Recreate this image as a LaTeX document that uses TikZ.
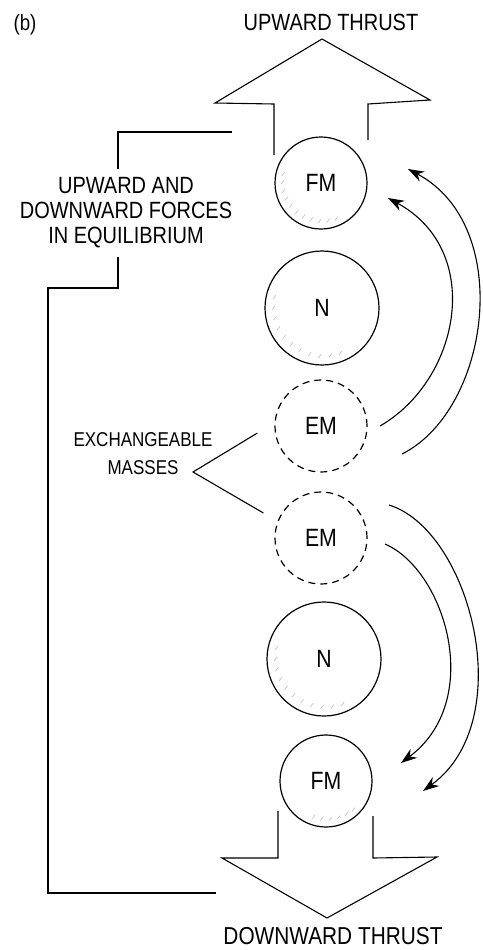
\documentclass[tikz,border=0pt]{standalone}
\usepackage{fontspec}
\setmainfont{Liberation Sans}[FakeStretch=0.85]
\usetikzlibrary{calc,arrows.meta}

\tikzset{
  mass/.style={circle, draw, line width=1.2pt, inner sep=0pt, font=\fontsize{25}{28}\selectfont},
  fixedmass/.style={mass, minimum size=92pt},
  neutralmass/.style={mass, minimum size=114pt},
  exchmass/.style={mass, minimum size=92pt, dash pattern=on 7pt off 5pt},
  flow/.style={line width=1.1pt, -{Stealth[length=16pt, width=11pt, inset=5pt]}},
  stroke/.style={line width=1.1pt},
  hatch/.style={gray!60, line width=0.5pt},
  lbl/.style={align=center, font=\fontsize{23.5}{25}\selectfont},
}

% faint hatching inside a ball
\newcommand\hatchball[3]{%
  \foreach \a in {#2} \draw[hatch] ($(#1)+(\a:#3)$) -- +(3,-4);}

\begin{document}
\begin{tikzpicture}[x=1pt, y=-1pt]
  \useasboundingbox (0,0) rectangle (482,950);

  % tag
  \node[font=\fontsize{22}{24}\selectfont] (tag) at (25,25) {(b)};

  % masses
  \node[fixedmass] (fmA) at (321,183) {FM};
  \node[neutralmass] (nA) at (322,308) {N};
  \node[exchmass] (emA) at (321,426) {EM};
  \node[exchmass] (emB) at (321,538) {EM};
  \node[neutralmass] (nB) at (324,659) {N};
  \node[fixedmass] (fmB) at (326,781) {FM};

  % hatching
  \hatchball{fmA}{70,82,...,200}{40}
  \hatchball{nA}{70,82,...,200}{50}
  \hatchball{nB}{70,82,...,200}{50}
  \hatchball{fmB}{50,62,...,110}{40}

  % thrust arrows
  \draw[stroke] (274,155) -- (274,104) -- (215,103) -- (322,39) -- (430,100) -- (368,104) -- (368,140);
  \draw[stroke] (278,811) -- (278,858) -- (222,858) -- (327,918) -- (437,857) -- (373,858) -- (373,816);
  \node[lbl] (up) at (331,22) {UPWARD THRUST};
  \node[lbl, font=\fontsize{24.5}{25}\selectfont] (down) at (333,936) {DOWNWARD THRUST};

  % equilibrium bracket
  \node[lbl, inner sep=8pt] (forces) at (126,213) {UPWARD AND\\DOWNWARD FORCES\\IN EQUILIBRIUM};
  \coordinate (brtop) at (232,132);
  \coordinate (brbot) at (216,893);
  \draw[stroke] (brtop) -| ([xshift=-8pt]forces.north);
  \draw[stroke] ([xshift=-8pt]forces.south) |- (48,288) -- (48,893) -- (brbot);

  % exchangeable masses
  \node[lbl, font=\fontsize{20}{28}\selectfont] (exch) at (143,454) {EXCHANGEABLE\\MASSES};
  \coordinate (fork) at (193,472);
  \draw[stroke] ($(emA.west)+(-17,7)$) -- (fork) -- ($(emB.west)+(-11,-25)$);

  % exchange arcs
  \draw[flow] ($(emA)+(59,0)$) .. controls +(80,-46) and +(97,53) .. ($(fmA)+(67,15)$);
  \draw[flow] ($(emA)+(81,28)$) .. controls +(88,-44) and +(107,57) .. ($(fmA)+(87,-14)$);
  \draw[flow] ($(emB)+(64,6)$) .. controls +(60,26) and +(84,-63) .. ($(fmB)+(75,-18)$);
  \draw[flow] ($(emB)+(68,-33)$) .. controls +(81,25) and +(97,-71) .. ($(fmB)+(97,10)$);
\end{tikzpicture}
\end{document}
